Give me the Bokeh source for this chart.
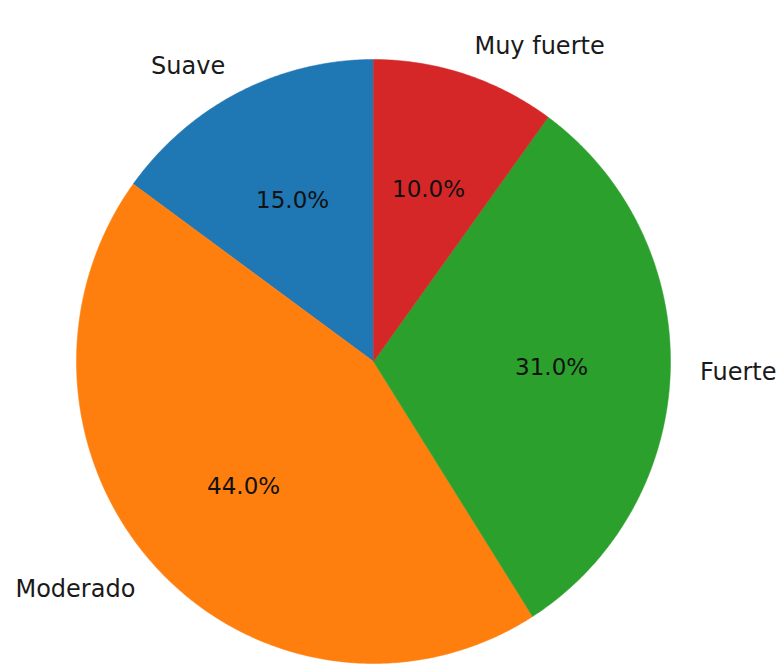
import numpy as np
from bokeh.plotting import figure
from bokeh.models import Range1d, ColumnDataSource
from bokeh.core.properties import value
from bokeh.embed import file_html
from bokeh.resources import INLINE

categories = ["Suave", "Moderado", "Fuerte", "Muy fuerte"]
shares = [15.0, 44.0, 31.0, 10.0]
colors = ["#1f77b4", "#ff7f0e", "#2ca02c", "#d62728"]

W, H = 780, 665
cx, cy = 373, H - 361
RX, RY = 297, 302

p = figure(width=W, height=H, x_range=Range1d(0, W), y_range=Range1d(0, H),
           output_backend="svg", toolbar_location=None, min_border=0)
p.axis.visible = False
p.grid.visible = False
p.outline_line_color = None
p.background_fill_color = "white"

vals = np.array(shares)
frac = vals / vals.sum()
start = np.deg2rad(90) + 2 * np.pi * np.concatenate([[0], np.cumsum(frac)[:-1]])
end = start + 2 * np.pi * frac
mid = (start + end) / 2

xs, ys = [], []
for s, e in zip(start, end):
    n = max(int(np.degrees(e - s) * 2), 8)
    t = np.linspace(s, e, n)
    xs.append(np.concatenate([[cx], cx + RX * np.cos(t)]).tolist())
    ys.append(np.concatenate([[cy], cy + RY * np.sin(t)]).tolist())

src = ColumnDataSource(dict(xs=xs, ys=ys, color=colors))
p.patches(xs="xs", ys="ys", fill_color="color", line_color="color",
          line_width=0.5, source=src)

lx = cx + 1.1 * RX * np.cos(mid)
ly = cy + 1.1 * RY * np.sin(mid)
align = ["right" if np.cos(m) < 0 else "left" for m in mid]
lab = ColumnDataSource(dict(x=lx, y=ly, t=categories, a=align))
p.text(x="x", y="y", text="t", text_align="a", text_baseline="middle",
       text_font=value("DejaVu Sans"), text_font_size="24px",
       text_color="#1a1a1a", source=lab)

px = cx + 0.6 * RX * np.cos(mid)
py = cy + 0.6 * RY * np.sin(mid)
pct = ["%.1f%%" % v for v in frac * 100]
pl = ColumnDataSource(dict(x=px, y=py, t=pct))
p.text(x="x", y="y", text="t", text_align="center", text_baseline="middle",
       text_font=value("DejaVu Sans"), text_font_size="23px",
       text_color="#111111", source=pl)

open("out.html", "w").write(file_html(p, INLINE))
